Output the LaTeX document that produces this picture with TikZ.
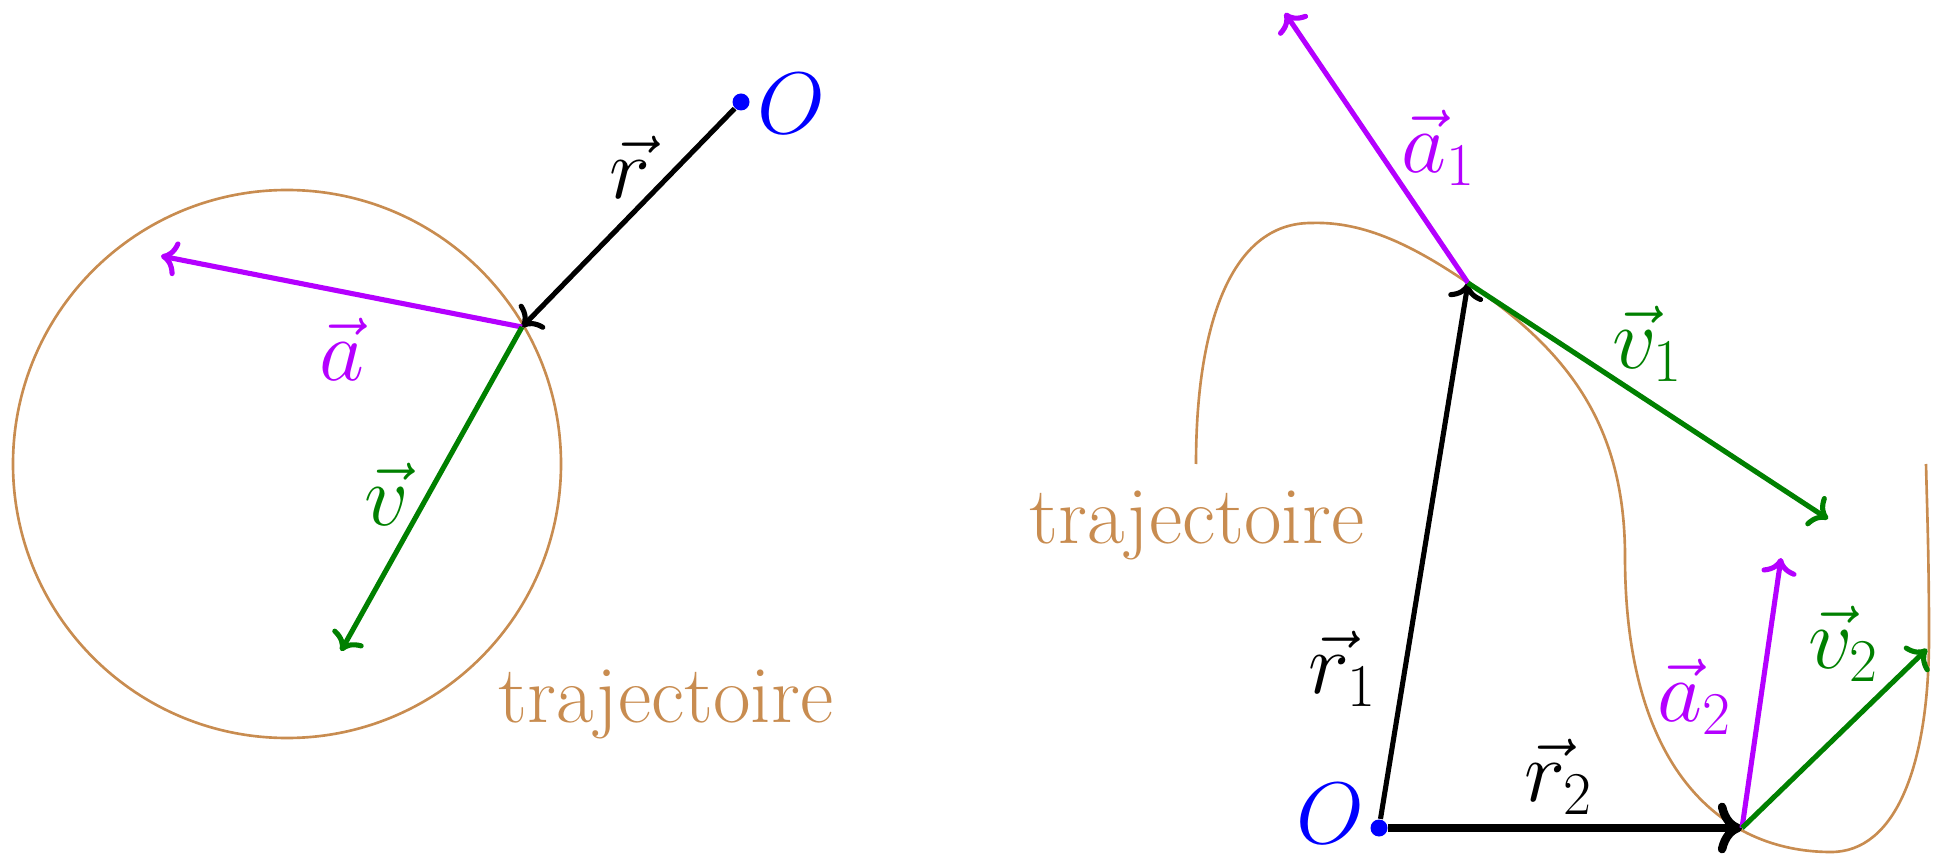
\documentclass[tikz,border=0pt]{standalone}
\usepackage{amsmath,amssymb}
\usepackage{xcolor}
\usepackage{tikz}
\usetikzlibrary{arrows.meta,positioning,calc}

\definecolor{acccolor}{RGB}{180,0,255}
\definecolor{velcolor}{RGB}{0,128,0}
\definecolor{trajcolor}{RGB}{200,140,80}

\begin{document}
\begin{tikzpicture}[
  x=1cm,
  y=1cm,
  vect/.style={->, line width=1.45pt},
  posvec/.style={vect, draw=black},
  accvec/.style={vect, draw=acccolor},
  velvec/.style={vect, draw=velcolor},
  traj/.style={draw=trajcolor, line width=0.75pt},
  lab/.style={font=\fontsize{23.2}{28}\selectfont, inner sep=1pt},
  origin/.style={circle, fill=blue, inner sep=0pt, minimum size=0.17cm}
]
\useasboundingbox (0,0) rectangle (19.37,8.57);

% Left: circular trajectory, point P seen from O.
\draw[traj] (2.87,3.93) circle (2.74);
\node[lab, text=trajcolor] (trajL) at (6.66,1.53) {trajectoire};

\coordinate (P) at (5.22,5.30);
\coordinate (atip) at (1.61,6.01);
\coordinate (vtip) at (3.41,2.06);
\node[origin] (O1) at (7.41,7.55) {};
\node[lab, text=blue, anchor=west] (O1lab) at ($(O1)+(0.12,-0.02)$) {$O$};

\draw[posvec] (O1) -- (P);
\draw[accvec] (P) -- (atip);
\draw[velvec] (P) -- (vtip);

\node[lab] (rlab) at (6.30,6.90) {$\vec{r}$};
\node[lab, text=acccolor] (alab) at (3.42,5.08) {$\vec{a}$};
\node[lab, text=velcolor] (vlab) at (3.87,3.63) {$\vec{v}$};

% Right: arbitrary trajectory, two positions P1 and P2.
\coordinate (P1) at (14.68,5.74);
\coordinate (P2) at (17.42,0.29);
\draw[traj] (11.96,3.93) .. controls (11.96,5.3) and (12.3,6.34) .. (13.11,6.34)
  .. controls (13.65,6.36) and (14.15,6.10) .. (P1)
  .. controls (15.7,5.05) and (16.25,4.3) .. (16.25,3.0)
  .. controls (16.25,0.9) and (17.2,0.05) .. (18.31,0.05)
  .. controls (18.95,0.05) and (19.29,0.9) .. (19.29,2.2)
  .. controls (19.29,3.0) and (19.27,3.5) .. (19.26,3.93);
\node[lab, text=trajcolor] (trajR) at (11.97,3.32) {trajectoire};

\coordinate (a1tip) at (12.85,8.44);
\coordinate (v1tip) at (18.28,3.38);
\coordinate (a2tip) at (17.81,2.99);
\coordinate (v2tip) at (19.27,2.08);
\node[origin] (O2) at (13.79,0.29) {};
\node[lab, text=blue, anchor=east, inner sep=0pt] (O2lab) at ($(O2)+(-0.14,0.14)$) {$O$};

\draw[posvec] (O2) -- (P1);
\draw[posvec, line width=2.4pt] (O2) -- (P2);
\draw[accvec] (P1) -- (a1tip);
\draw[velvec] (P1) -- (v1tip);
\draw[accvec] (P2) -- (a2tip);
\draw[velvec] (P2) -- (v2tip);

\node[lab, text=acccolor] (a1lab) at (14.39,7.09) {$\vec{a}_1$};
\node[lab, text=velcolor] (v1lab) at (16.48,5.13) {$\vec{v}_1$};
\node[lab] (r1lab) at (13.43,1.88) {$\vec{r}_1$};
\node[lab] (r2lab) at (15.59,0.80) {$\vec{r}_2$};
\node[lab, text=acccolor] (a2lab) at (16.95,1.60) {$\vec{a}_2$};
\node[lab, text=velcolor] (v2lab) at (18.44,2.13) {$\vec{v}_2$};
\end{tikzpicture}
\end{document}
